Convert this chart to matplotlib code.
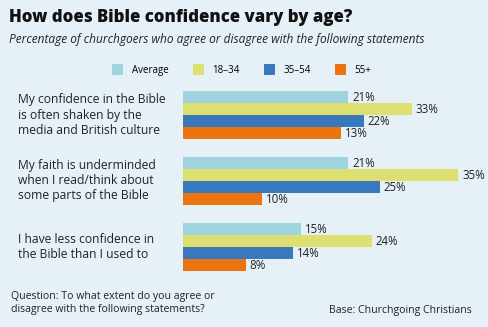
import matplotlib.pyplot as plt
from matplotlib.patches import Patch

plt.rcParams["font.family"] = ["Open Sans", "DejaVu Sans"]

# data
statements = [
    "My confidence in the Bible\nis often shaken by the\nmedia and British culture",
    "My faith is underminded\nwhen I read/think about\nsome parts of the Bible",
    "I have less confidence in\nthe Bible than I used to",
]
groups = ["Average", "18\u201334", "35\u201354", "55+"]
average = [21, 21, 15]
age_18_34 = [33, 35, 24]
age_35_54 = [22, 25, 14]
age_55_plus = [13, 10, 8]

# the printed chart draws the first statement's 18-34 / 35-54 / 55+ bars
# at these lengths (not matching their labels)
drawn_18_34 = [29.1, 35, 24]
drawn_35_54 = [23.0, 25, 14]
drawn_55_plus = [20.1, 10, 8]

colors = ["#9fd3de", "#dde070", "#3a78bd", "#ec7410"]
bg = "#e6f1f7"
W, H = 489, 327


def main():
    fig = plt.figure(figsize=(W / 100, H / 100), dpi=100, facecolor=bg)
    # bars start at x=183, rows run from y=91 to y=271
    ax = fig.add_axes([183 / W, (H - 271) / H, 300 / W, 180 / H])
    ax.set_facecolor("none")

    labels = [average, age_18_34, age_35_54, age_55_plus]
    lengths = [average, drawn_18_34, drawn_35_54, drawn_55_plus]
    bar_h = 12
    step = 66
    for j, (vals, lens, col) in enumerate(zip(labels, lengths, colors)):
        ys = [i * step + j * bar_h + bar_h / 2 for i in range(len(vals))]
        ax.barh(ys, lens, height=bar_h, color=col, linewidth=0)
        for y, v, l in zip(ys, vals, lens):
            ax.text(l + 0.5, y + 0.3, f"{v}%", va="center", ha="left",
                    fontsize=8.3, color="#222222")

    ax.set_xlim(0, 300 / 7.86)
    ax.set_ylim(180, 0)
    ax.axis("off")

    # category labels
    for i, s in enumerate(statements):
        yc = i * step + 2 * bar_h
        ax.text(-165 / 7.86, yc, s, ha="left", va="center", fontsize=8.75,
                linespacing=1.2, color="#222222")

    fig.text(9 / W, 1 - 18 / H, "How does Bible confidence vary by age?",
             fontsize=12.1, fontweight="heavy", va="center", ha="left",
             color="#111111")
    fig.text(9 / W, 1 - 40 / H,
             "Percentage of churchgoers who agree or disagree with the following statements",
             fontsize=8.6, style="italic", va="center", ha="left", color="#222222")

    handles = [Patch(facecolor=c, edgecolor="none", label=g)
               for c, g in zip(colors, groups)]
    fig.legend(handles=handles, loc="center", ncol=4, frameon=False,
               bbox_to_anchor=(242 / W, 1 - 70 / H), fontsize=7,
               handlelength=1.1, handleheight=1.3, handletextpad=0.9,
               columnspacing=2.5)

    fig.text(11 / W, 1 - 303 / H,
             "Question: To what extent do you agree or\ndisagree with the following statements?",
             fontsize=7.6, va="center", ha="left", linespacing=1.25,
             color="#222222")
    fig.text(472 / W, 1 - 310 / H, "Base: Churchgoing Christians",
             fontsize=7.6, va="center", ha="right", color="#222222")

    fig.savefig("out.png", dpi=100, facecolor=bg)


if __name__ == "__main__":
    main()
